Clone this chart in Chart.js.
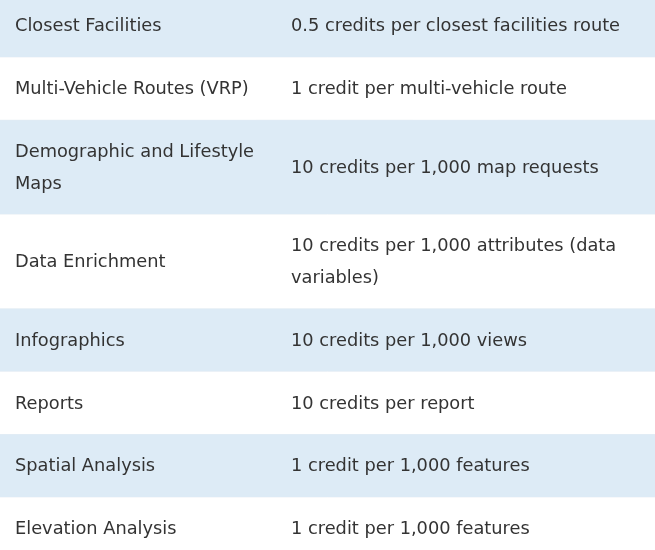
<!DOCTYPE html>
<html>
<head>
<meta charset="utf-8">
<script src="https://cdn.jsdelivr.net/npm/chart.js"></script>
<style>
  html, body { margin: 0; padding: 0; background: #fff; }
  #canvas1 { display: block; }
</style>
</head>
<body>
<canvas id="canvas1" width="655" height="550"></canvas>
<script>
// table content, one entry per row (arrays = wrapped lines)
let services = [
  'Closest Facilities',
  'Multi-Vehicle Routes (VRP)',
  ['Demographic and Lifestyle', 'Maps'],
  'Data Enrichment',
  'Infographics',
  'Reports',
  'Spatial Analysis',
  'Elevation Analysis'
];
let credits = [
  '0.5 credits per closest facilities route',
  '1 credit per multi-vehicle route',
  '10 credits per 1,000 map requests',
  ['10 credits per 1,000 attributes (data', 'variables)'],
  '10 credits per 1,000 views',
  '10 credits per report',
  '1 credit per 1,000 features',
  '1 credit per 1,000 features'
];
// row height in text-line units
let rowSpans = [2, 2, 3, 3, 2, 2, 2, 2];

// row edges along the y axis
let rowTops = [];
let acc = 0;
rowSpans.forEach(function(s) { rowTops.push(acc); acc += s; });

let rowColors = ['#ddebf6', '#ffffff'];

let datasets = rowSpans.map(function(s, i) {
  return {
    data: [{x: 0, y: rowTops[i]}, {x: 655, y: rowTops[i]}],
    fill: {value: rowTops[i] + s},
    backgroundColor: rowColors[i % 2],
    borderColor: '#e6edf3',
    borderWidth: 1,
    pointRadius: 0
  };
});

let tableText = {
  id: 'tableText',
  afterDatasetsDraw: function(chart) {
    let ctx = chart.ctx;
    let xs = chart.scales.x, ys = chart.scales.y;
    ctx.save();
    ctx.font = '17.8px "DejaVu Sans", Verdana, sans-serif';
    ctx.fillStyle = '#333333';
    ctx.textBaseline = 'middle';
    ctx.textAlign = 'left';
    let cols = [[services, 15], [credits, 291]];
    rowSpans.forEach(function(s, i) {
      let mid = rowTops[i] + s / 2;
      cols.forEach(function(c) {
        let cell = c[0][i];
        let lines = Array.isArray(cell) ? cell : [cell];
        lines.forEach(function(t, k) {
          let v = mid + (k - (lines.length - 1) / 2);
          // nudge down a little so caps sit like the original
          ctx.fillText(t, xs.getPixelForValue(c[1]), ys.getPixelForValue(v) + 1.3);
        });
      });
    });
    ctx.restore();
  }
};

let myChart = document.getElementById('canvas1').getContext('2d');
let table = new Chart(myChart, {
  type: 'line',
  data: { datasets: datasets },
  options: {
    responsive: false,
    animation: false,
    layout: { padding: 0 },
    plugins: { legend: { display: false }, tooltip: { enabled: false } },
    scales: {
      x: { type: 'linear', min: 0, max: 655, display: false },
      y: { type: 'linear', reverse: true, min: 0.19, max: 17.69, display: false }
    }
  },
  plugins: [tableText]
});
</script>
</body>
</html>
